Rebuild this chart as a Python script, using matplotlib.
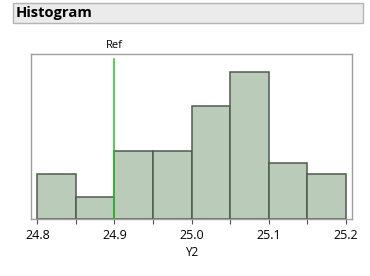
import matplotlib.pyplot as plt
from matplotlib.patches import Rectangle

# données
bin_edges = [24.80, 24.85, 24.90, 24.95, 25.00, 25.05, 25.10, 25.15, 25.20]
counts = [4, 2, 6, 6, 10, 13, 5, 4]
ref_value = 24.9
tick_labels = ["24.8", "", "24.9", "", "25.0", "", "25.1", "", "25.2"]

plt.rcParams['font.family'] = ['Open Sans', 'DejaVu Sans']

fig = plt.figure(figsize=(3.70, 2.76), dpi=100)

# bandeau de titre
fig.patches.append(Rectangle((13/370, 1 - 23.3/276), 350/370, 20.6/276,
                             transform=fig.transFigure, facecolor='#EBEBEB',
                             edgecolor='#B4B4B4', linewidth=1))
fig.text(15.5/370, 1 - 13.5/276, "Histogram", fontsize=10.6, fontweight='bold',
         va='center', ha='left')

ax = fig.add_axes([31.3/370, 1 - 219.3/276, 320.4/370, 165/276])

widths = [bin_edges[i + 1] - bin_edges[i] for i in range(len(counts))]
ax.bar(bin_edges[:-1], counts, width=widths, align='edge',
       color='#BACBBA', edgecolor='#505A50', linewidth=1.1, zorder=2)

ax.axvline(ref_value, ymin=0, ymax=(219.3 - 59) / 165, color='#1EC81E',
           linewidth=1.1, zorder=3)
ax.text(ref_value, 14.56 + 0.75, "Ref", ha='center', va='center', fontsize=8)

ax.set_xlim(24.7922, 25.2078)
ax.set_ylim(0, 14.56)
ax.set_yticks([])
ax.set_xticks(bin_edges)
ax.set_xticklabels(tick_labels)
ax.tick_params(axis='x', length=3.5, width=0.8, color='#505050',
               labelsize=9, pad=3.5)
for s in ax.spines.values():
    s.set_color('#A0A0A0')
    s.set_linewidth(1)
ax.set_xlabel("Y2", fontsize=8.5, labelpad=3)

fig.savefig("out.png", dpi=100)
